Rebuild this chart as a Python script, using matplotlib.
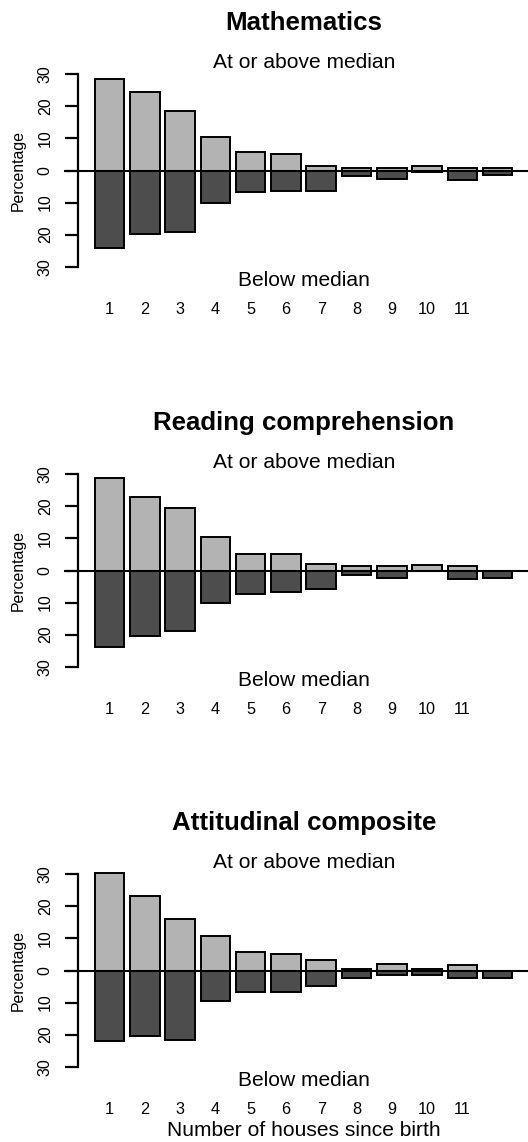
import matplotlib
matplotlib.use("Agg")
import matplotlib.pyplot as plt
import numpy as np

plt.rcParams['font.family'] = ['Liberation Sans', 'DejaVu Sans']

# Number of houses since birth (12th bar is the open-ended group, unlabelled)
houses = np.arange(1, 13)
house_labels = [str(i) for i in range(1, 12)]

panel_titles = ["Mathematics", "Reading comprehension", "Attitudinal composite"]

# Percentage of students at or above / below the median, by number of houses
math_above = [28.5, 24.4, 18.5, 10.3, 5.7, 5.3, 1.3, 0.8, 0.8, 1.45, 0.8, 0.85]
math_below = [24.2, 19.8, 19.2, 10.0, 6.8, 6.4, 6.45, 1.7, 2.5, 0.6, 3.0, 1.35]

reading_above = [29.0, 22.9, 19.5, 10.3, 5.1, 5.1, 2.0, 1.25, 1.25, 1.8, 1.25, 0.0]
reading_below = [23.75, 20.3, 18.9, 10.1, 7.2, 6.7, 5.8, 1.3, 2.2, 0.0, 2.6, 2.2]

attitude_above = [30.3, 23.2, 16.0, 10.8, 5.8, 5.0, 3.3, 0.5, 2.1, 0.5, 1.8, 0.0]
attitude_below = [22.0, 20.4, 21.6, 9.45, 6.85, 6.85, 4.7, 2.2, 1.35, 1.35, 2.2, 2.2]

above_sets = [math_above, reading_above, attitude_above]
below_sets = [math_below, reading_below, attitude_below]

y_ticks = [-30, -20, -10, 0, 10, 20, 30]

W, H = 528, 1142
fig = plt.figure(figsize=(W / 100, H / 100), dpi=100)

LIGHT = "#b3b3b3"
DARK = "#4d4d4d"
px = 0.72  # points per pixel at 100 dpi


def fx(x):
    return x / W


def fy(y):
    return 1 - y / H


axis_left = 78.3
for k in range(3):
    off = 400 * k
    top = 74.3 + off
    bot = 266.7 + off
    ax = fig.add_axes([fx(axis_left), fy(bot), 1 - fx(axis_left), (bot - top) / H])
    ax.set_ylim(-30, 30)
    ax.set_xlim(0.116, 12.86)

    above = np.array(above_sets[k])
    below = np.array(below_sets[k])
    ax.bar(houses, above, width=0.84, color=LIGHT, edgecolor="black",
           linewidth=1.4, clip_on=False, zorder=2)
    ax.bar(houses, -below, width=0.84, color=DARK, edgecolor="black",
           linewidth=1.4, clip_on=False, zorder=2)
    ax.axhline(0, xmin=-0.03, xmax=1, color="black", linewidth=1.5,
               clip_on=False, zorder=3)

    for side in ["top", "right", "bottom"]:
        ax.spines[side].set_visible(False)
    ax.spines["left"].set_linewidth(1.6)
    ax.spines["left"].set_bounds(-30, 30)

    ax.set_yticks(y_ticks)
    ax.set_yticklabels([str(abs(v)) for v in y_ticks], rotation=90,
                       va="center", fontsize=11.5)
    ax.tick_params(axis="y", length=13 * px, width=1.6, pad=9)

    ax.set_xticks(houses[:11])
    ax.set_xticklabels(house_labels, fontsize=11.7)
    ax.tick_params(axis="x", length=0, pad=25.5)

    ax.patch.set_visible(False)

    fig.text(fx(304), fy(23 + off), panel_titles[k], ha="center", va="center",
             fontsize=18.6, fontweight="bold")
    fig.text(fx(304), fy(63 + off), "At or above median", ha="center",
             va="center", fontsize=15.1)
    fig.text(fx(304), fy(280 + off), "Below median", ha="center",
             va="center", fontsize=15.1)
    fig.text(fx(18.3), fy(170.5 + off), "Percentage", ha="center",
             va="center", rotation=90, fontsize=11.4)

fig.text(fx(304), fy(1130), "Number of houses since birth", ha="center",
         va="center", fontsize=15.1)

fig.savefig("out.png", dpi=100, facecolor="white")
